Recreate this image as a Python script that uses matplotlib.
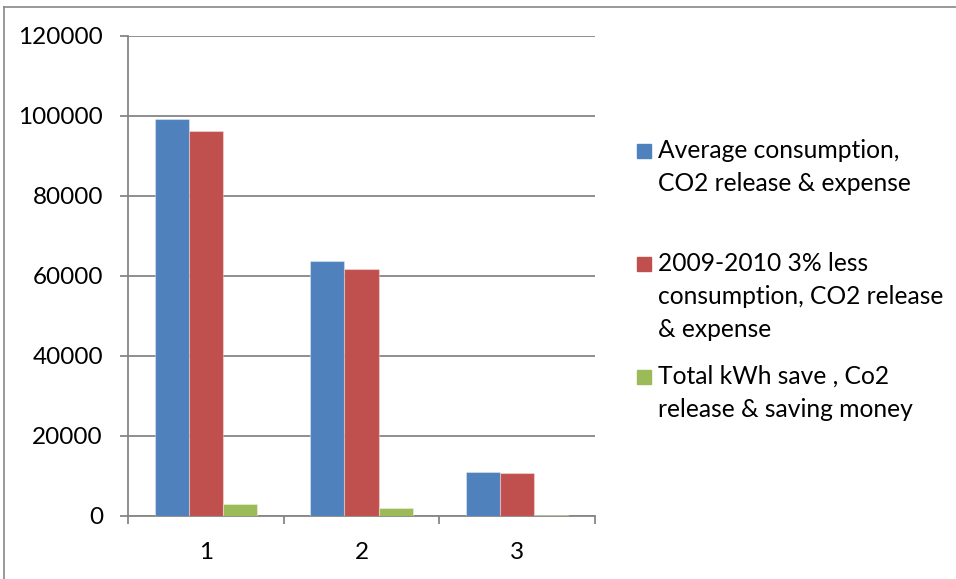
import matplotlib.pyplot as plt
from matplotlib.patches import Rectangle
from matplotlib.lines import Line2D
import numpy as np

plt.rcParams['font.family'] = ['Lato', 'DejaVu Sans']

categories = ['1', '2', '3']
average = [99200, 63700, 11000]
less_3pct = [96224, 61789, 10670]
saving = [2976, 1911, 330]
labels = ['Average consumption,\nCO2 release & expense',
          '2009-2010 3% less\nconsumption, CO2 release\n& expense',
          'Total kWh save , Co2\nrelease & saving money']
colors = ['#4F81BD', '#C0504D', '#9BBB59']

W, H = 956, 579
fig = plt.figure(figsize=(W / 100, H / 100), dpi=100)
ax = fig.add_axes([128 / W, 1 - 516 / H, (595 - 128) / W, (516 - 36) / H])

x = np.arange(1, len(categories) + 1)
w = 0.219
for i, vals in enumerate([average, less_3pct, saving]):
    ax.bar(x + (i - 1) * w, vals, width=w, color=colors[i],
           edgecolor=(1, 1, 1, 0.35), linewidth=0.8, zorder=3)

ax.set_xlim(0.5, 3.5)
ax.set_ylim(0, 120000)
ax.set_yticks(np.arange(0, 120001, 20000))
ax.set_xticks(x)
ax.set_xticklabels(categories)
ax.set_xticks(np.arange(0.5, 3.6, 1), minor=True)
ax.grid(axis='y', color='#868686', linewidth=1.3, zorder=0)

grey = '#868686'
for s in ['top', 'right']:
    ax.spines[s].set_visible(False)
for s in ['left', 'bottom']:
    ax.spines[s].set_color(grey)
    ax.spines[s].set_linewidth(1.3)
ax.tick_params(axis='y', length=6, width=1.3, color=grey, pad=12, labelsize=17.5)
ax.tick_params(axis='x', which='major', length=0, pad=19, labelsize=17.5)
ax.tick_params(axis='x', which='minor', length=6, width=1.3, color=grey)

# legend drawn by hand, square aligned with first text line
entry_y = [151, 264, 377]
for lab, c, y in zip(labels, colors, entry_y):
    fig.patches.append(Rectangle((637 / W, 1 - (y + 7) / H), 14 / W, 14 / H,
                                 transform=fig.transFigure, color=c))
    fig.text(658 / W, 1 - (y - 12) / H, lab, fontsize=17.7, va='top', ha='left',
             linespacing=1.52)

# outer chart border
fig.lines.append(Line2D([4 / W, 1], [1 - 7 / H, 1 - 7 / H], transform=fig.transFigure,
                        color='#888888', linewidth=1.2))
fig.lines.append(Line2D([4 / W, 4 / W], [0, 1 - 7 / H], transform=fig.transFigure,
                        color='#888888', linewidth=1.2))

fig.savefig('out.png', dpi=100)
